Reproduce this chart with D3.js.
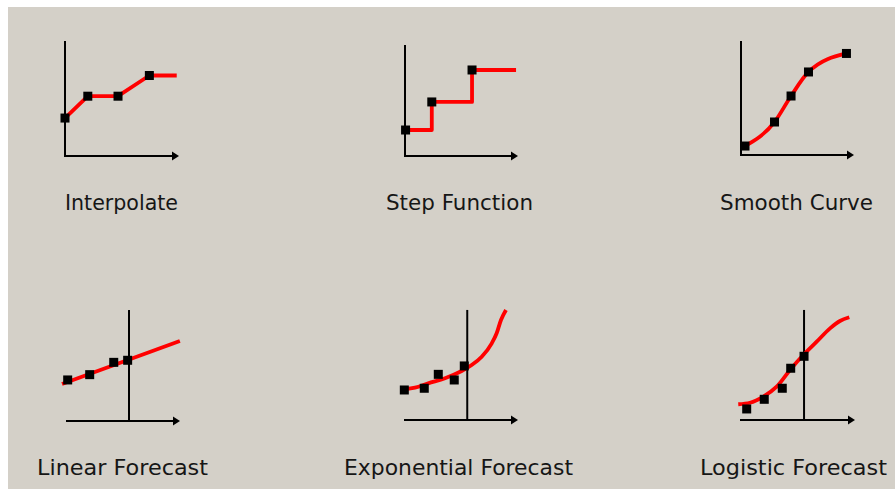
<!DOCTYPE html>
<html>
<head>
<meta charset="utf-8">
<script src="https://cdn.jsdelivr.net/npm/d3@7"></script>
<style>
  html, body { margin: 0; padding: 0; background: #ffffff; }
  svg { display: block; }
  text { font-family: "DejaVu Sans", sans-serif; }
</style>
</head>
<body>
<script>
// ---------- DATA (values in each panel's own 0–100 units) ----------
const titles = ["Interpolate", "Step Function", "Smooth Curve",
                "Linear Forecast", "Exponential Forecast", "Logistic Forecast"];

// Interpolate
const interpX = [0, 20, 46.5, 74];
const interpY = [33, 52, 52, 70];
const interpEndX = 98;

// Step function
const stepX = [0.5, 23.5, 58.8];
const stepY = [22.6, 47, 74.8];
const stepEndX = 97.4;

// Smooth curve
const smoothX = [3.5, 29.4, 43.9, 59.2, 92.5];
const smoothY = [7.8, 28.7, 51.3, 72.2, 88.3];

// Linear forecast
const linX = [0.6, 19.9, 41, 53.2];
const linY = [35.7, 40.3, 51, 52.8];
const linTrendX = [-4.4, 99];
const linTrendY = [32.2, 69.6];

// Exponential forecast
const expX = [-0.6, 16.9, 29.2, 43.2, 52.0];
const expY = [26.1, 27.6, 39.7, 34.8, 47.0];
const expCurveX = [-0.6, 8.8, 20.4, 35.1, 49.7, 58.5, 67.3, 76.1, 80.4, 84.2, 88.6];
const expCurveY = [26.7, 28.1, 31.9, 36.3, 42.6, 47.8, 55.0, 66.7, 75.4, 87.0, 95.7];

// Logistic forecast
const logX = [5.0, 20.4, 36.2, 43.6, 55.3];
const logY = [9.6, 18.0, 27.6, 45.0, 55.4];
const logCurveX = [-2.4, 7.9, 19.6, 31.3, 43.0, 54.6, 66.4, 78.1, 86.8, 95.0];
const logCurveY = [13.7, 15.0, 20.3, 29.0, 43.5, 56.5, 68.1, 79.7, 86.1, 89.3];

// ---------- LAYOUT ----------
const W = 895, H = 489;
const BG = "#d4d0c8";
const zip = (xs, ys) => xs.map((x, i) => [x, ys[i]]);

const panels = [
  { ox: 65,  oy: 156, kind: "corner",   yTop: 100,  xEnd: 100,
    line: [...zip(interpX, interpY), [interpEndX, interpY[interpY.length - 1]]],
    curve: d3.curveLinear, pts: zip(interpX, interpY), label: [65, 210, 113] },
  { ox: 405, oy: 156, kind: "corner",   yTop: 96.5, xEnd: 99.1,
    line: [...zip(stepX, stepY), [stepEndX, stepY[stepY.length - 1]]],
    curve: d3.curveStepAfter, pts: zip(stepX, stepY), label: [386, 210, 147] },
  { ox: 741, oy: 155, kind: "corner",   yTop: 99.1, xEnd: 99.1,
    line: zip(smoothX, smoothY),
    curve: d3.curveMonotoneX, pts: zip(smoothX, smoothY), label: [720, 210, 153] },
  { ox: 67,  oy: 421, kind: "forecast", yTop: 96.5, xEnd: 99.1, vx: 54.4,
    line: zip(linTrendX, linTrendY),
    curve: d3.curveLinear, pts: zip(linX, linY), label: [37, 475, 171] },
  { ox: 405, oy: 420, kind: "forecast", yTop: 95.7, xEnd: 99.1, vx: 54.6,
    line: zip(expCurveX, expCurveY),
    curve: d3.curveMonotoneX, pts: zip(expX, expY), label: [344, 475, 229] },
  { ox: 741, oy: 420, kind: "forecast", yTop: 95.7, xEnd: 100, vx: 55.3,
    line: zip(logCurveX, logCurveY),
    curve: d3.curveMonotoneX, pts: zip(logX, logY), label: [700, 475, 187] }
];

const svg = d3.select("body").append("svg")
  .attr("width", W).attr("height", H);

svg.append("rect")
  .attr("x", 8).attr("y", 7).attr("width", W - 8).attr("height", H - 7)
  .attr("fill", BG);

panels.forEach((p, i) => {
  const x = d3.scaleLinear().domain([0, 100]).range([p.ox, p.ox + 114]);
  const y = d3.scaleLinear().domain([0, 100]).range([p.oy, p.oy - 115]);
  const g = svg.append("g");

  // axes
  const axisColor = "#000";
  const vxv = p.kind === "corner" ? 0 : p.vx;
  g.append("line")
    .attr("x1", x(vxv)).attr("x2", x(vxv))
    .attr("y1", y(0)).attr("y2", y(p.yTop))
    .attr("stroke", axisColor).attr("stroke-width", 2);
  g.append("line")
    .attr("x1", x(0) - 1).attr("x2", x(p.xEnd) - 4)
    .attr("y1", y(0)).attr("y2", y(0))
    .attr("stroke", axisColor).attr("stroke-width", 2);
  const tx = x(p.xEnd), ty = y(0);
  g.append("path")
    .attr("d", `M${tx},${ty} L${tx - 7},${ty - 4.5} L${tx - 7},${ty + 4.5} Z`)
    .attr("fill", axisColor);

  // red line / curve
  const lineGen = d3.line().x(d => x(d[0])).y(d => y(d[1])).curve(p.curve);
  g.append("path")
    .attr("d", lineGen(p.line))
    .attr("fill", "none")
    .attr("stroke", "#ff0000")
    .attr("stroke-width", 3.8)
    .attr("stroke-linejoin", "round")
    .attr("stroke-linecap", "butt");

  // markers
  const s = 9;
  g.selectAll("rect.m").data(p.pts).join("rect")
    .attr("class", "m")
    .attr("x", d => x(d[0]) - s / 2)
    .attr("y", d => y(d[1]) - s / 2)
    .attr("width", s).attr("height", s)
    .attr("fill", "#000");

  // label
  svg.append("text")
    .attr("x", p.label[0]).attr("y", p.label[1])
    .attr("text-anchor", "start")
    .attr("font-size", 21.5)
    .attr("textLength", p.label[2])
    .attr("lengthAdjust", "spacingAndGlyphs")
    .attr("fill", "#161616")
    .text(titles[i]);
});
</script>
</body>
</html>
